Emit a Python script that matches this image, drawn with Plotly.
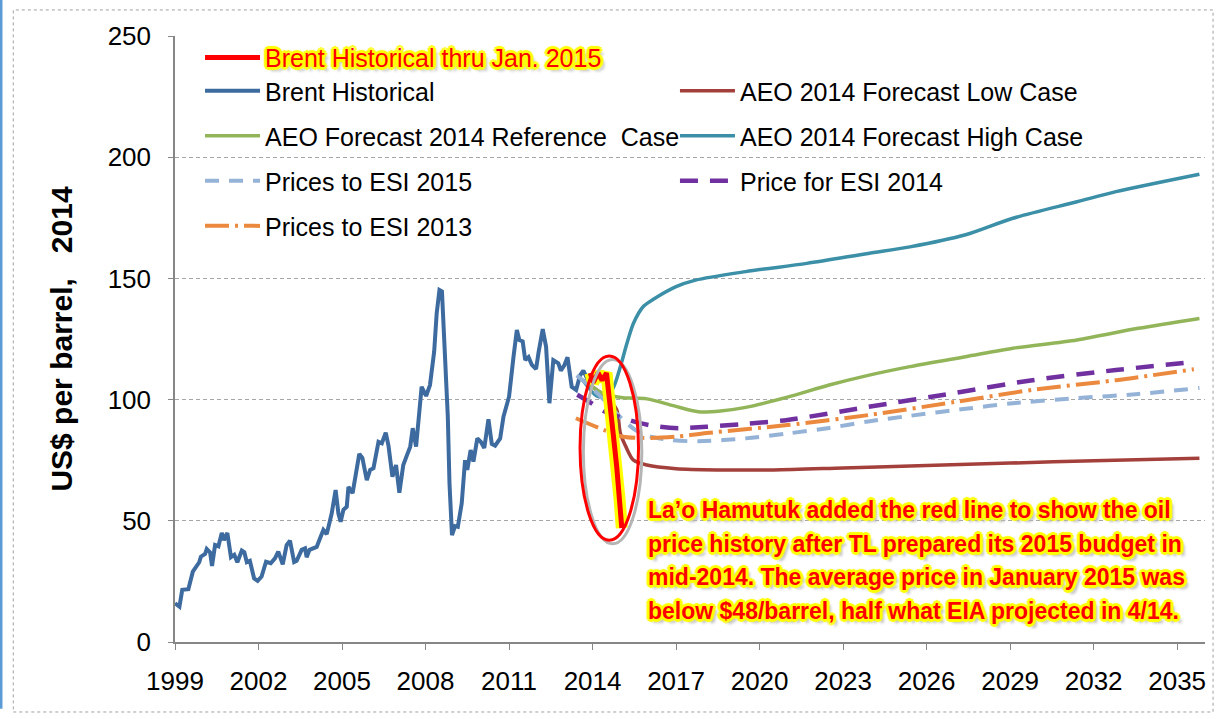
import plotly.graph_objects as go

# ---------------------------------------------------------------------------------------
# DATA  (US$ per barrel, 2014 dollars ; x = decimal year)

# Brent historical (blue)
brent_x = [1999.00, 1999.16, 1999.26, 1999.48, 1999.64, 1999.78, 1999.87, 1999.93, 2000.08, 2000.14,
           2000.26, 2000.33, 2000.44, 2000.56, 2000.68, 2000.76, 2000.88, 2001.01, 2001.13, 2001.24,
           2001.40, 2001.49, 2001.58, 2001.69, 2001.84, 2001.97, 2002.11, 2002.27, 2002.44, 2002.59,
           2002.71, 2002.87, 2003.01, 2003.13, 2003.28, 2003.37, 2003.55, 2003.67, 2003.73, 2003.83,
           2004.09, 2004.19, 2004.33, 2004.45, 2004.63, 2004.77, 2004.87, 2004.95, 2005.05, 2005.17,
           2005.23, 2005.38, 2005.62, 2005.73, 2005.89, 2006.01, 2006.13, 2006.31, 2006.43, 2006.57,
           2006.67, 2006.81, 2006.94, 2007.06, 2007.20, 2007.33, 2007.45, 2007.54, 2007.66, 2007.86,
           2008.02, 2008.16, 2008.31, 2008.40, 2008.50, 2008.59, 2008.70, 2008.80, 2008.86, 2008.95,
           2009.06, 2009.16, 2009.30, 2009.42, 2009.50, 2009.62, 2009.72, 2009.86, 2009.99, 2010.11,
           2010.26, 2010.38, 2010.50, 2010.68, 2010.80, 2011.00, 2011.16, 2011.28, 2011.37, 2011.49,
           2011.58, 2011.70, 2011.82, 2011.97, 2012.06, 2012.21, 2012.33, 2012.45, 2012.59, 2012.77,
           2012.86, 2012.98, 2013.10, 2013.25, 2013.41, 2013.55, 2013.67, 2013.83, 2013.95]
brent_y = [16.0, 14.6, 21.5, 21.8, 29.0, 31.8, 32.9, 35.2, 36.3, 38.4,
           37.0, 31.4, 40.0, 39.5, 45.0, 42.0, 45.0, 35.0, 36.0, 32.9,
           37.7, 37.0, 32.9, 33.5, 26.3, 25.2, 27.0, 33.1, 32.5, 34.5,
           37.3, 32.0, 40.0, 41.8, 33.0, 33.5, 38.0, 38.6, 35.0, 38.0,
           39.2, 42.2, 46.2, 44.5, 53.1, 62.7, 53.0, 49.6, 54.5, 55.8,
           64.0, 61.4, 77.6, 76.0, 66.8, 71.0, 71.7, 82.6, 82.0, 86.4,
           80.9, 68.2, 73.0, 61.6, 73.0, 77.0, 80.6, 88.2, 80.6, 105.3,
           101.5, 106.0, 119.8, 135.6, 145.2, 144.6, 117.4, 93.0, 65.5, 44.1,
           47.8, 47.5, 57.2, 75.0, 71.0, 79.2, 74.4, 84.0, 82.5, 80.0,
           91.9, 81.7, 81.0, 84.0, 93.0, 101.2, 117.7, 128.7, 124.6, 124.0,
           116.3, 117.5, 114.3, 112.6, 119.5, 129.1, 121.8, 98.5, 116.3, 115.0,
           112.0, 114.0, 117.5, 105.3, 104.0, 110.0, 112.0, 108.0, 110.0]

# Brent historical thru Jan. 2015 (red, added by La'o Hamutuk)
red_x = [2013.92, 2014.02, 2014.20, 2014.34, 2014.50, 2014.60, 2014.74, 2014.87, 2014.97, 2015.05]
red_y = [111, 107, 111, 108, 111, 102, 86, 72, 59, 47]

# AEO 2014 forecast, low case
low_x = [2013.65, 2014.15, 2014.60, 2014.87, 2015.00, 2015.20, 2015.47, 2015.95, 2017.0, 2018.5,
         2020.5, 2023.0, 2026.0, 2029.0, 2032.0, 2035.8]
low_y = [108, 104, 100, 95.7, 86, 80.5, 75, 73, 71.5, 71,
         71, 71.8, 72.8, 73.8, 74.8, 75.8]

# AEO 2014 forecast, reference case
ref_x = [2013.65, 2014.15, 2014.50, 2015.10, 2015.95, 2016.90, 2017.80, 2018.60, 2019.50, 2021.0,
         2022.5, 2023.9, 2025.4, 2027.4, 2029.1, 2031.4, 2033.6, 2035.8]
ref_y = [108, 104, 102, 100.8, 100.3, 97.5, 95, 95.3, 96.8, 101,
         106, 110, 113.6, 117.7, 121.2, 124.6, 129.4, 133.5]

# AEO 2014 forecast, high case
high_x = [2013.65, 2014.15, 2014.50, 2014.75, 2015.00, 2015.23, 2015.47, 2015.83, 2016.20, 2017.0,
          2017.7, 2019.5, 2021.7, 2023.9, 2025.4, 2027.4, 2029.1, 2031.4, 2032.8, 2035.8]
high_y = [108, 101.5, 101, 105, 113.6, 123, 131.5, 138.5, 141.5, 146.6,
          149.3, 152.8, 156.2, 160.3, 163, 168, 174.8, 181.6, 185.8, 193]

# prices used for the state budgets (ESI)
esi15_x = [2013.43, 2013.85, 2014.40, 2015.10, 2015.60, 2016.10, 2016.80, 2017.80, 2019.50, 2021.0,
           2022.5, 2023.9, 2025.4, 2027.4, 2029.1, 2031.4, 2033.6, 2035.8]
esi15_y = [110, 106, 100, 91.6, 87, 84.7, 83.3, 82.8, 84, 86,
           88.3, 91, 93.3, 96.2, 98.5, 100.6, 102.3, 104.8]

esi14_x = [2013.45, 2013.95, 2014.45, 2015.10, 2015.70, 2016.40, 2017.10, 2018.10, 2019.50, 2021.0,
           2023.9, 2027.0, 2029.8, 2032.8, 2035.6]
esi14_y = [102, 98.6, 95, 92.4, 90.3, 88.8, 88.2, 88.8, 90, 91.6,
           97, 102.7, 108, 112.2, 115.5]

esi13_x = [2013.40, 2014.40, 2015.10, 2016.10, 2017.00, 2018.10, 2021.0, 2023.9, 2027.0, 2029.8,
           2032.8, 2035.6]
esi13_y = [92.3, 87.5, 84.7, 84.2, 84.7, 86.2, 89.5, 93.6, 99, 104,
           108, 112.5]

# axis ticks
year_ticks = [1999, 2002, 2005, 2008, 2011, 2014, 2017, 2020, 2023, 2026, 2029, 2032, 2035]
price_ticks = [0, 50, 100, 150, 200, 250]

note_lines = ["La’o Hamutuk added the red line to show the oil",
              "price history after TL prepared its 2015 budget in",
              "mid-2014. The average price in January 2015 was",
              "below $48/barrel, half what EIA projected in 4/14."]

# ---------------------------------------------------------------------------------------
# STYLE
txt_font = "Liberation Sans, Arial, sans-serif"
glow = ", ".join("#FFFF00 %dpx %dpx 1px" % (dx, dy)
                 for dx, dy in [(3, 0), (-3, 0), (0, 3), (0, -3), (2, 2), (-2, -2), (2, -2), (-2, 2)])
glow = glow + ", #B8B8B8 4px 4px 3px"

# plot area height in pixels, used to place the note lines in paper units
plot_h = 719 - 36 - 77

# ---------------------------------------------------------------------------------------
# GRAPH
fig = go.Figure()

fig.add_trace(go.Scatter(x=brent_x, y=brent_y, name="Brent Historical", mode="lines",
                         line=dict(color="#3D6B9F", width=4), legend="legend2", legendgroup="a"))
fig.add_trace(go.Scatter(x=low_x, y=low_y, name="AEO 2014 Forecast Low Case", mode="lines",
                         line=dict(color="#A3403B", width=3.5, shape="spline", smoothing=0.8),
                         legend="legend3", legendgroup="b"))
fig.add_trace(go.Scatter(x=ref_x, y=ref_y, name="AEO Forecast 2014 Reference  Case", mode="lines",
                         line=dict(color="#93B55A", width=3.5, shape="spline", smoothing=0.8),
                         legend="legend2", legendgroup="c"))
fig.add_trace(go.Scatter(x=high_x, y=high_y, name="AEO 2014 Forecast High Case", mode="lines",
                         line=dict(color="#3B8FA7", width=3.5, shape="spline", smoothing=0.8),
                         legend="legend3", legendgroup="d"))
fig.add_trace(go.Scatter(x=esi15_x, y=esi15_y, name="Prices to ESI 2015", mode="lines",
                         line=dict(color="#95B3D7", width=4, dash="14px,10px", shape="spline", smoothing=0.8),
                         legend="legend2", legendgroup="e"))
fig.add_trace(go.Scatter(x=esi14_x, y=esi14_y, name="Price for ESI 2014", mode="lines",
                         line=dict(color="#7030A0", width=4.5, dash="18px,12px", shape="spline", smoothing=0.8),
                         legend="legend3", legendgroup="f"))
fig.add_trace(go.Scatter(x=esi13_x, y=esi13_y, name="Prices to ESI 2013", mode="lines",
                         line=dict(color="#EB8A3F", width=4, dash="24px,6px,3px,6px", shape="spline", smoothing=0.8),
                         legend="legend2", legendgroup="g"))

# red line with its yellow glow
fig.add_trace(go.Scatter(x=red_x, y=red_y, mode="lines", showlegend=False, hoverinfo="skip",
                         line=dict(color="#FFFF00", width=12)))
fig.add_trace(go.Scatter(x=red_x, y=red_y, name="Brent Historical thru Jan. 2015", mode="lines",
                         line=dict(color="#FF0000", width=5), legend="legend"))

# ellipse around the red line, derived from its extent
ex0, ex1 = min(red_x) - 0.37, max(red_x) + 0.6
ey0, ey1 = min(red_y) - 5, max(red_y) + 7
fig.add_shape(type="circle", xref="x", yref="y", x0=ex0 + 0.12, x1=ex1 + 0.12, y0=ey0 - 1.5, y1=ey1 - 1.5,
              line=dict(color="#B5B5B5", width=3))
fig.add_shape(type="circle", xref="x", yref="y", x0=ex0, x1=ex1, y0=ey0, y1=ey1,
              line=dict(color="#FF0000", width=3))

# outer frame and blue edge
fig.add_shape(type="rect", xref="paper", yref="paper", x0=-0.157, x1=1.0078, y0=-0.1155, y1=1.043,
              line=dict(color="#A0A0A0", width=1, dash="dot"), layer="below")
fig.add_shape(type="rect", xref="paper", yref="paper", x0=-0.1699, x1=-0.1675, y0=-0.11, y1=1.06,
              line=dict(width=0), fillcolor="#5B9BD5")

# note, one annotation per line (line spacing of the original)
for i, line in enumerate(note_lines):
    fig.add_annotation(text=line, xref="paper", yref="paper", x=0.457, y=(132 - 33.5 * i) / plot_h,
                       xanchor="left", yanchor="middle", align="left", showarrow=False,
                       font=dict(family=txt_font, size=23, color="#FF0000", weight="bold", shadow=glow))

# axes
fig.update_xaxes(range=[1999, 2036], tickvals=year_ticks, ticks="outside", ticklen=6, tickcolor="#868686",
                 showline=True, linecolor="#868686", linewidth=1.5, showgrid=False, zeroline=False,
                 tickfont=dict(family=txt_font, size=26, color="#000000"), ticklabelstandoff=9,
                 automargin=False)
fig.update_yaxes(range=[0, 250], tickvals=price_ticks, ticks="outside", ticklen=5, tickcolor="#868686",
                 showline=True, linecolor="#868686", linewidth=1.5, zeroline=False,
                 showgrid=True, gridcolor="#A6A6A6", gridwidth=1, griddash="4px,3px",
                 tickfont=dict(family=txt_font, size=26, color="#000000"), ticklabelstandoff=12,
                 automargin=False,
                 title=dict(text="US$ per barrel,   2014", standoff=26,
                            font=dict(family=txt_font, size=30, color="#000000", weight="bold")))

# legends (one row on top, then two columns)
legend_common = dict(bgcolor="rgba(0,0,0,0)", borderwidth=0, itemwidth=55, xanchor="left", yanchor="top",
                     traceorder="grouped", tracegroupgap=9.5, itemclick=False, itemdoubleclick=False)
fig.update_layout(
    legend=dict(x=0.0243, y=1.002, font=dict(family=txt_font, size=25, color="#FF0000", shadow=glow),
                **legend_common),
    legend2=dict(x=0.0243, y=0.947, font=dict(family=txt_font, size=25, color="#000000"), **legend_common),
    legend3=dict(x=0.4854, y=0.947, font=dict(family=txt_font, size=25, color="#000000"), **legend_common),
)

fig.update_layout(width=1218, height=719, margin=dict(l=175, r=13, t=36, b=77, autoexpand=False),
                  paper_bgcolor="white", plot_bgcolor="white", showlegend=True,
                  font=dict(family=txt_font, color="#000000"))

# the page keeps the figure in the corner (no default body margin), no mode bar
fig.write_html("out.html", config={"displayModeBar": False},
               post_script="document.body.style.margin='0px';")
